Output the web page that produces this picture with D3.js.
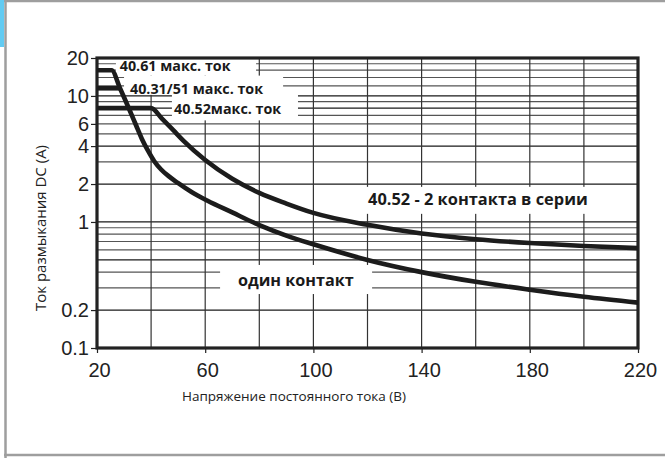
<!DOCTYPE html>
<html><head><meta charset="utf-8">
<script src="https://cdn.jsdelivr.net/npm/d3@7"></script>
<style>html,body{margin:0;padding:0;background:#fff;overflow:hidden}svg{display:block}</style>
</head><body><svg id="c" width="665" height="458"></svg>
<script>
// ---- data ----
const xTickValues=[20,60,100,140,180,220];
const xGridValues=[40,60,80,100,120,140,160,180,200];
const yTickValues=[20,10,6,4,2,1,0.2,0.1];
const yTickLabels=["20","10","6","4","2","1","0.2","0.1"];
const yGridValues=[18,16,14,12,10,9,8,7,6,5,4,3,2,1,0.9,0.8,0.7,0.6,0.5,0.4,0.3,0.2];
const yGridMajor=[10,8,4,2,1,0.5,0.2];
const oneContactV=[20,25.4,28.5,31.8,34.4,36.6,38.9,41.1,43.7,46.6,49.9,55.1,60.7,70,80,90,100,120,140,160,180,200,220];
const oneContactA=[16,16,11.5,7.95,5.88,4.56,3.66,3.05,2.61,2.30,2.04,1.72,1.48,1.19,0.945,0.78,0.665,0.5,0.40,0.335,0.29,0.255,0.229];
const seriesV=[20,40,44,48,52,60,70,80,90,100,120,140,160,180,200,220];
const seriesA=[8,8,6.6,5.4,4.4,3.1,2.2,1.7,1.4,1.18,0.95,0.81,0.73,0.68,0.645,0.62];
const limitV=[20,28.5];
const limitA=[11.5,11.5];
const labelTexts=["40.61 макс. ток","40.31/51 макс. ток","40.52макс. ток","40.52 - 2 контакта в серии","один контакт"];
const xTitle="Напряжение постоянного тока (В)";
const yTitle="Ток размыкания DC (A)";

// ---- layout ----
const L=97,R=638,T=58,B=348;
// label boxes in data units: [v0,v1,aTop,aBottom,textV,textA]
const labelLayout=[
  [27.0,78.8,20,14.5,28.4,17.3],
  [30.0,88.8,14.5,10.2,32.2,11.4],
  [47.7,94.3,10.2,6.4,48.5,7.9],
  [100.6,219.3,1.9,1.16,120.2,1.52],
  [65.5,121.7,0.456,0.268,72.1,0.347]
];
const labelSizes=[14.3,14.3,14.3,16.4,16.2];

const svg=d3.select("#c");
const x=d3.scaleLinear().domain([20,220]).range([L,R]);
const y=d3.scaleLog().domain([0.1,20]).range([B,T]);

// outer frame
svg.append("rect").attr("x",0).attr("y",0).attr("width",665).attr("height",458).attr("fill","#fff");
svg.append("rect").attr("x",0).attr("y",0).attr("width",4).attr("height",47).attr("fill","#62cbf2");
svg.append("line").attr("x1",4).attr("x2",665).attr("y1",1).attr("y2",1).attr("stroke","#9e9e9e").attr("stroke-width",2.5);
svg.append("line").attr("x1",5.5).attr("x2",5.5).attr("y1",0).attr("y2",458).attr("stroke","#9e9e9e").attr("stroke-width",2.5);
svg.append("line").attr("x1",4).attr("x2",665).attr("y1",455).attr("y2",455).attr("stroke","#9e9e9e").attr("stroke-width",2.5);

const g=svg.append("g");
// horizontal grid
g.selectAll("line.hg").data(yGridValues).join("line")
  .attr("x1",L).attr("x2",R).attr("y1",d=>y(d)).attr("y2",d=>y(d))
  .attr("stroke",d=>yGridMajor.includes(d)?"#1a1a1a":"#555").attr("stroke-width",1.2);
// vertical grid
g.selectAll("line.vg").data(xGridValues).join("line")
  .attr("x1",d=>x(d)).attr("x2",d=>x(d)).attr("y1",T).attr("y2",B)
  .attr("stroke","#333").attr("stroke-width",1.2);

// label boxes
g.selectAll("rect.box").data(labelLayout).join("rect")
  .attr("x",d=>x(d[0])).attr("y",d=>y(d[2]))
  .attr("width",d=>x(d[1])-x(d[0])).attr("height",d=>y(d[3])-y(d[2]))
  .attr("fill","#fff");

// axes ticks via d3 axes
const yAxis=d3.axisLeft(y).tickValues(yTickValues).tickFormat((d,i)=>yTickLabels[i]).tickSize(6).tickPadding(2);
const ya=svg.append("g").attr("transform",`translate(${L},0)`).call(yAxis);
ya.select(".domain").remove();
ya.selectAll(".tick line").attr("stroke","#222").attr("stroke-width",1.2);
ya.selectAll(".tick text").attr("font-family","Liberation Sans, Arial, sans-serif").attr("font-size",20).attr("fill","#222");

const xAxis=d3.axisBottom(x).tickValues(xTickValues).tickSize(5).tickPadding(10);
const xa=svg.append("g").attr("transform",`translate(0,${B})`).call(xAxis);
xa.select(".domain").remove();
xa.selectAll(".tick line").attr("stroke","#222").attr("stroke-width",1.2);
xa.selectAll(".tick text").attr("font-family","Liberation Sans, Arial, sans-serif").attr("font-size",20).attr("fill","#222").attr("dx",2);

// plot frame
svg.append("rect").attr("x",L).attr("y",T).attr("width",R-L).attr("height",B-T)
  .attr("fill","none").attr("stroke","#222").attr("stroke-width",3.2);

// curves
const line=d3.line().x(d=>x(d[0])).y(d=>y(d[1])).curve(d3.curveMonotoneX);
const curves=[d3.zip(oneContactV,oneContactA),d3.zip(seriesV,seriesA),d3.zip(limitV,limitA)];
svg.selectAll("path.curve").data(curves).join("path")
  .attr("d",line).attr("fill","none").attr("stroke","#1c1c1c").attr("stroke-width",4.6)
  .attr("stroke-linejoin","round");

// labels
svg.selectAll("text.lbl").data(labelLayout).join("text")
  .attr("x",d=>x(d[4])).attr("y",d=>y(d[5])).attr("dy","0.35em")
  .attr("font-family","Open Sans, Noto Sans, sans-serif").attr("font-weight","bold")
  .attr("font-size",(d,i)=>labelSizes[i]).attr("fill","#1a1a1a")
  .text((d,i)=>labelTexts[i]);

// axis titles
svg.append("text").attr("x",294).attr("y",401).attr("text-anchor","middle")
  .attr("font-family","Open Sans, Noto Sans, sans-serif").attr("font-size",13.5).attr("fill","#222").text(xTitle);
svg.append("text").attr("transform",`translate(46,228) rotate(-90)`).attr("text-anchor","middle")
  .attr("font-family","Open Sans, Noto Sans, sans-serif").attr("font-size",15).attr("fill","#222").text(yTitle);
</script></body></html>
